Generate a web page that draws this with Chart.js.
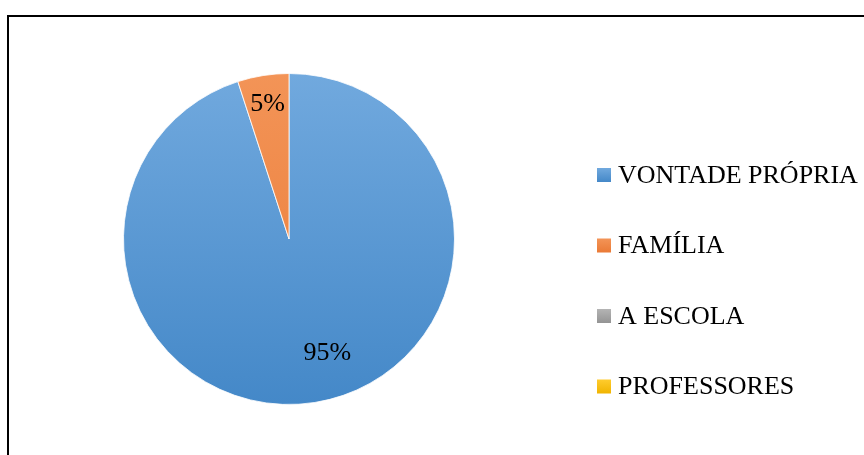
<!DOCTYPE html>
<html>
<head>
<meta charset="utf-8">
<script src="https://cdn.jsdelivr.net/npm/chart.js@4/dist/chart.umd.min.js"></script>
<style>
  html, body { margin: 0; padding: 0; background: #fff; }
  #wrap { width: 864px; height: 455px; position: relative; }
</style>
</head>
<body>
<div id="wrap"><canvas id="myChart" width="864" height="455"></canvas></div>
<script>
// Categories and shares (%)
const labels = ['VONTADE PRÓPRIA', 'FAMÍLIA', 'A ESCOLA', 'PROFESSORES'];
const values = [95, 5, 0, 0];

// gradient stops for each slice (top, bottom)
const colorTop = ['#71a9de', '#f39457', '#b4b4b4', '#ffcc2e'];
const colorBottom = ['#4488c8', '#ea7a36', '#949494', '#f0b400'];

// where the percentage text sits inside each slice
const labelRadius = [0.72, 0.83, 0.8, 0.8];
const labelTurn = [-0.17, 0, 0, 0];

const textFont = '26px "Liberation Serif", "Times New Roman", serif';

function sliceGradient(ctx) {
  const chart = ctx.chart;
  const area = chart.chartArea;
  if (!area) return colorTop[ctx.dataIndex];
  const g = chart.ctx.createLinearGradient(0, area.top, 0, area.bottom);
  g.addColorStop(0, colorTop[ctx.dataIndex]);
  g.addColorStop(1, colorBottom[ctx.dataIndex]);
  return g;
}

// outer frame
const framePlugin = {
  id: 'frame',
  beforeDraw(chart) {
    const c = chart.ctx;
    c.save();
    c.fillStyle = '#fff';
    c.fillRect(0, 0, chart.width, chart.height);
    c.fillStyle = '#000';
    c.fillRect(7, 15, chart.width - 7, 2);
    c.fillRect(7, 15, 2, chart.height - 15);
    c.restore();
  }
};

// percentage labels on the slices
const valueLabels = {
  id: 'valueLabels',
  afterDatasetsDraw(chart) {
    const c = chart.ctx;
    const meta = chart.getDatasetMeta(0);
    const total = values.reduce((a, b) => a + b, 0);
    c.save();
    c.font = textFont;
    c.fillStyle = '#000';
    c.textAlign = 'center';
    c.textBaseline = 'middle';
    meta.data.forEach((arc, i) => {
      if (!values[i]) return;
      const p = arc.getProps(['x', 'y', 'startAngle', 'endAngle', 'outerRadius'], true);
      const mid = (p.startAngle + p.endAngle) / 2 + labelTurn[i];
      const r = p.outerRadius * labelRadius[i];
      const pct = Math.round(values[i] / total * 100) + '%';
      c.fillText(pct, p.x + Math.cos(mid) * r, p.y + Math.sin(mid) * r + 1);
    });
    c.restore();
  }
};

// legend on the right
const sideLegend = {
  id: 'sideLegend',
  afterDraw(chart) {
    const c = chart.ctx;
    const x0 = 597, y0 = 175, step = 70.5, box = 14;
    c.save();
    c.font = textFont;
    c.textBaseline = 'middle';
    labels.forEach((lab, i) => {
      const y = y0 + i * step;
      const g = c.createLinearGradient(0, y - box / 2, 0, y + box / 2);
      g.addColorStop(0, colorTop[i]);
      g.addColorStop(1, colorBottom[i]);
      c.fillStyle = g;
      c.fillRect(x0, y - box / 2, box, box);
      c.fillStyle = '#000';
      c.fillText(lab, x0 + 21, y + 1);
    });
    c.restore();
  }
};

const data = {
  labels: labels,
  datasets: [{
    data: values,
    backgroundColor: sliceGradient,
    borderColor: 'rgba(255,255,255,0.8)',
    borderWidth: 1
  }]
};

const config = {
  type: 'pie',
  data: data,
  options: {
    responsive: false,
    animation: false,
    layout: { padding: { left: 123, right: 409, top: 73, bottom: 50 } },
    plugins: {
      legend: { display: false },
      tooltip: { enabled: false }
    }
  },
  plugins: [framePlugin, valueLabels, sideLegend]
};

var ctx = document.getElementById('myChart').getContext('2d');
var myChart = new Chart(ctx, config);
</script>
</body>
</html>
